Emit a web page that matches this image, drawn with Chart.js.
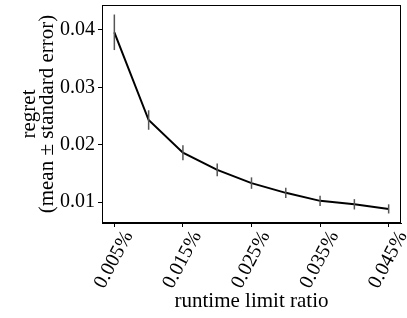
<!DOCTYPE html>
<html>
<head>
<meta charset="utf-8">
<script src="https://cdn.jsdelivr.net/npm/chart.js@4/dist/chart.umd.min.js"></script>
<style>
  html, body { margin: 0; padding: 0; background: #fff; }
  #wrap { width: 407px; height: 318px; }
</style>
</head>
<body>
<div id="wrap"><canvas id="regretChart"></canvas></div>
<script>
// runtime limit ratio (%) and regret mean / standard error
var ratios = [0.005, 0.010, 0.015, 0.020, 0.025, 0.030, 0.035, 0.040, 0.045];
var regretMean = [0.0396, 0.0243, 0.0186, 0.0156, 0.0133, 0.0116, 0.0102, 0.0096, 0.0088];
var regretErr = [0.0031, 0.0017, 0.0013, 0.0011, 0.0010, 0.0009, 0.0009, 0.0009, 0.0008];
var xTicks = [0.005, 0.015, 0.025, 0.035, 0.045];
var yTicks = [0.01, 0.02, 0.03, 0.04];

var serif = '"Liberation Serif", "DejaVu Serif", serif';

/**
 * Draws the vertical error bars and the box round the plot area.
 */
var errorBars = {
    id: 'errorBars',
    afterDatasetsDraw: function(chart) {
        var ctx = chart.ctx;
        var x = chart.scales.x, y = chart.scales.y;
        ctx.save();
        ctx.strokeStyle = '#555';
        ctx.lineWidth = 1.5;
        for (var i = 0; i < ratios.length; i++) {
            var px = x.getPixelForValue(ratios[i]);
            ctx.beginPath();
            ctx.moveTo(px, y.getPixelForValue(regretMean[i] - regretErr[i]));
            ctx.lineTo(px, y.getPixelForValue(regretMean[i] + regretErr[i]));
            ctx.stroke();
        }
        var a = chart.chartArea;
        ctx.strokeStyle = '#000';
        ctx.lineWidth = 1;
        ctx.strokeRect(a.left + 0.5, a.top + 0.5, a.right - a.left - 1, a.bottom - a.top - 1);
        ctx.restore();
    }
};

var regretChart = new Chart(document.getElementById('regretChart').getContext('2d'), {
    type: 'line',
    data: {
        datasets: [{
            label: 'regret',
            data: ratios.map(function(r, i) { return {x: r, y: regretMean[i]}; }),
            borderColor: '#000',
            borderWidth: 2,
            pointRadius: 0,
            tension: 0,
            fill: false
        }]
    },
    options: {
        responsive: true,
        maintainAspectRatio: false,
        animation: false,
        layout: { padding: { left: 0, right: 6, top: 5, bottom: 0 } },
        plugins: { legend: { display: false }, tooltip: { enabled: false } },
        scales: {
            x: {
                type: 'linear',
                min: 0.0032,
                max: 0.0468,
                afterBuildTicks: function(scale) {
                    scale.ticks = xTicks.map(function(v) { return {value: v}; });
                },
                afterFit: function(scale) {
                    scale.height = 95;
                    scale.paddingLeft = 0;
                    scale.paddingRight = 0;
                },
                grid: { drawOnChartArea: false, drawTicks: true, tickLength: 4, color: '#000' },
                border: { display: true, color: '#000' },
                ticks: {
                    color: '#000',
                    font: { family: serif, size: 20 },
                    minRotation: 62,
                    maxRotation: 62,
                    labelOffset: 14,
                    padding: 0,
                    autoSkip: false,
                    callback: function(v) { return v.toFixed(3) + '%'; }
                },
                title: {
                    display: true,
                    text: 'runtime limit ratio',
                    color: '#000',
                    font: { family: serif, size: 21 },
                    padding: { top: 0, bottom: 4 }
                }
            },
            y: {
                min: 0.00634,
                max: 0.04436,
                afterBuildTicks: function(scale) {
                    scale.ticks = yTicks.map(function(v) { return {value: v}; });
                },
                afterFit: function(scale) {
                    scale.width = 102;
                    scale.paddingTop = 0;
                    scale.paddingBottom = 0;
                },
                grid: { drawOnChartArea: false, drawTicks: true, tickLength: 4, color: '#000' },
                border: { display: true, color: '#000' },
                ticks: {
                    color: '#000',
                    font: { family: serif, size: 20 },
                    padding: 3,
                    callback: function(v) { return v.toFixed(2); }
                },
                title: {
                    display: true,
                    text: ['regret', '(mean \u00b1 standard error)'],
                    color: '#000',
                    font: { family: serif, size: 21, lineHeight: 0.85 },
                    padding: { top: 21, bottom: 2 }
                }
            }
        }
    },
    plugins: [errorBars]
});
</script>
</body>
</html>
